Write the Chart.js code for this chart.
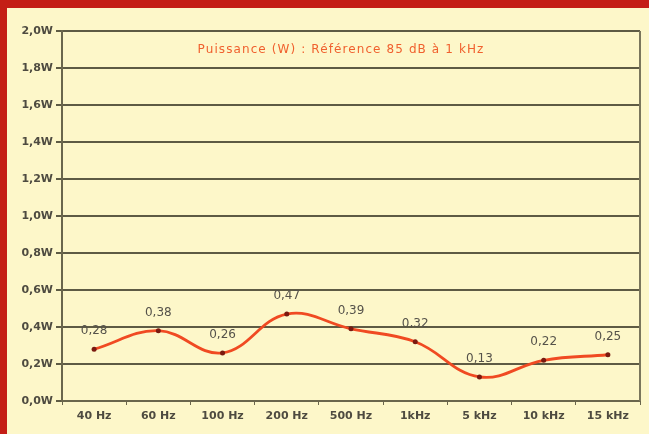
<!DOCTYPE html>
<html><head><meta charset="utf-8">
<script src="https://cdn.jsdelivr.net/npm/chart.js@4"></script>
<style>
html,body{margin:0;padding:0;background:#c41e16;width:649px;height:434px;overflow:hidden;}
#wrap{position:absolute;left:7px;top:8px;width:642px;height:426px;background:#fdf7c9;}
canvas{display:block;}
</style></head><body>
<div id="wrap"><canvas id="c" width="642" height="426"></canvas></div>
<script>
const categories = ["40 Hz","60 Hz","100 Hz","200 Hz","500 Hz","1kHz","5 kHz","10 kHz","15 kHz"];
const puissance = [0.28,0.38,0.26,0.47,0.39,0.32,0.13,0.22,0.25];
const chartTitle = "Puissance (W) : Référence 85 dB à 1 kHz";

const labelPlugin = {
  id:'labels',
  afterDatasetsDraw(chart){
    const ctx = chart.ctx;
    const meta = chart.getDatasetMeta(0);
    ctx.save();
    ctx.font = '12px "DejaVu Sans", sans-serif';
    ctx.fillStyle = '#55524a';
    ctx.textAlign = 'center';
    ctx.textBaseline = 'middle';
    meta.data.forEach((pt,i)=>{
      ctx.fillText(puissance[i].toFixed(2).replace('.',','), pt.x, pt.y-18);
    });
    const ca = chart.chartArea;
    ctx.font = '12px "DejaVu Sans", sans-serif';
    if ('letterSpacing' in ctx) ctx.letterSpacing = '1.1px';
    ctx.fillStyle = '#f0602e';
    ctx.fillText(chartTitle, (ca.left+ca.right)/2 - 10, ca.top + 19);
    ctx.restore();
  }
};

new Chart(document.getElementById('c'), {
  type:'line',
  data:{labels:categories, datasets:[{
    data:puissance,
    borderColor:'#f04a22',
    borderWidth:2.8,
    tension:0.4,
    pointRadius:2.5,
    pointBackgroundColor:'#7a1a10',
    pointBorderWidth:0,
    fill:false
  }]},
  options:{
    responsive:false,
    animation:false,
    layout:{padding:{top:23,right:9,left:0,bottom:0}},
    plugins:{legend:{display:false},tooltip:{enabled:false}},
    scales:{
      x:{
        offset:true,
        grid:{display:true,drawOnChartArea:false,color:'#6a664c',tickLength:4,offset:true},
        border:{display:true,color:'#6a664c',width:2},
        ticks:{color:'#4e4b40',font:{family:'"DejaVu Sans", sans-serif',size:11,weight:'bold'},padding:5,maxRotation:0},
        afterFit(s){s.height=33;}
      },
      y:{
        min:0,max:2,
        grid:{color:'#5e5b44',lineWidth:2,tickLength:6},
        border:{display:true,color:'#6a664c',width:2},
        ticks:{stepSize:0.2,color:'#4e4b40',padding:3,
          font:{family:'"DejaVu Sans", sans-serif',size:11,weight:'bold'},
          callback:v=>v.toFixed(1).replace('.',',')+'W'},
        afterFit(s){s.width=55;}
      }
    }
  },
  plugins:[labelPlugin,{
    id:'rightBorder',
    afterDraw(chart){
      const ca=chart.chartArea, ctx=chart.ctx;
      ctx.save();ctx.strokeStyle='#7a765c';ctx.lineWidth=2;
      ctx.beginPath();ctx.moveTo(ca.right,ca.top);ctx.lineTo(ca.right,ca.bottom);ctx.stroke();
      ctx.restore();
    }
  }]
});
</script>
</body></html>
